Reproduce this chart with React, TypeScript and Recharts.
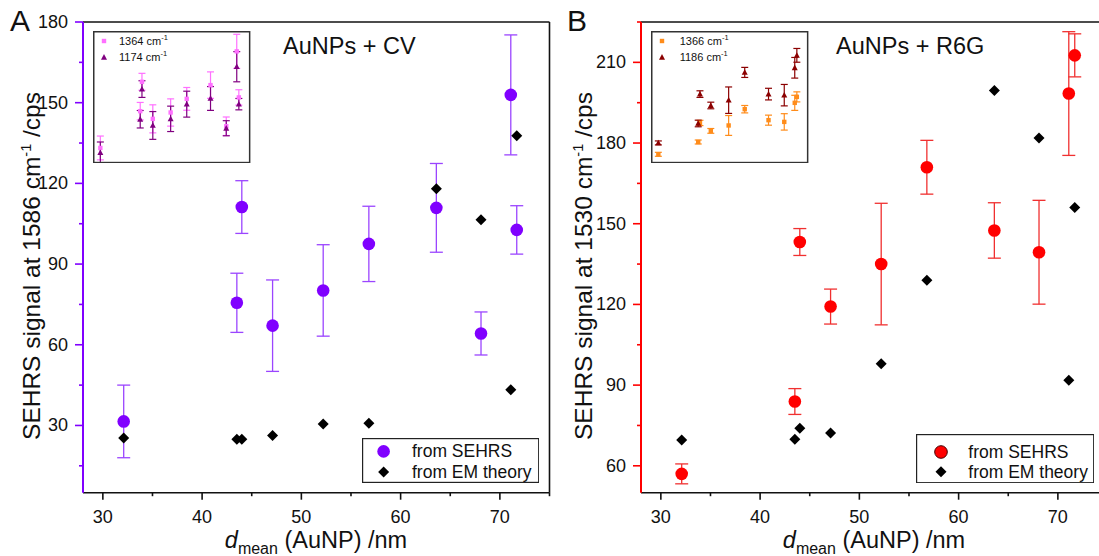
import React from 'react';
import { ScatterChart, Scatter, XAxis, YAxis, ErrorBar, ReferenceLine } from 'recharts';

const FONT = '"Liberation Sans", Arial, Helvetica, sans-serif';

// mean AuNP diameter (nm), same particles in both panels
const dMean = [32.1, 43.5, 44.0, 47.1, 52.2, 56.8, 63.6, 68.1, 71.1, 71.7];

// panel A: AuNPs + CV, SEHRS at 1586 cm-1
const cvSehrs = [31.5, 75.6, 111.2, 67.1, 80.2, 97.5, 110.9, 64.2, 152.9, 102.7];
const cvSehrsErr = [13.5, 11, 9.8, 17, 17, 14, 16.5, 8, 22.3, 9];
const cvEm = [25.3, 24.9, 24.9, 26.3, 30.5, 30.8, 118, 106.5, 43.3, 137.7];

// panel B: AuNPs + R6G, SEHRS at 1530 cm-1
const r6gSehrs = [57.0, 83.9, 143.2, 119.2, 135.0, 171.0, 147.5, 139.4, 198.4, 212.6];
const r6gSehrsErr = [3.7, 4.8, 5, 6.5, 22.6, 10, 10.3, 19.3, 23, 8];
const r6gEm = [69.6, 69.9, 74, 72.2, 97.9, 129, 199.5, 181.9, 91.8, 156];

// insets (arbitrary units, no axis shown)
const cv1364 = [11.6, 39.4, 61.6, 33.6, 38.4, 48.7, 59.1, 28, 84.6, 49.8];
const cv1364Err = [9, 6.6, 6.4, 10.6, 10.3, 8.6, 10, 7, 12.9, 5.8];
const cv1174 = [8.1, 33.3, 56.1, 28.6, 33.6, 44.7, 49, 26.5, 73, 44.7];
const cv1174Err = [8, 6.6, 6.3, 10.5, 9.6, 9.8, 9, 5.7, 11.4, 4.3];
const r6g1366 = [6.8, 16.1, 30.5, 24.5, 28.6, 40.9, 32.6, 31.3, 45.7, 50.2];
const r6g1366Err = [1.5, 1.5, 2, 1.8, 7.5, 2.8, 3.8, 6.2, 5.7, 3.8];
const r6g1186 = [15.4, 30.1, 52.3, 43.7, 47.7, 68.7, 52.3, 51.5, 72.2, 81.6];
const r6g1186Err = [1.5, 2.5, 2.5, 2.5, 10, 3.8, 4.4, 8.1, 7.8, 5.2];

const xTicks = [30, 35, 40, 45, 50, 55, 60, 65, 70, 75];
const yTicksCv = [15, 30, 45, 60, 75, 90, 105, 120, 135, 150, 165, 180];
const yTicksR6g = [60, 75, 90, 105, 120, 135, 150, 165, 180, 195, 210, 225];

const rows = (v: number[], e?: number[]) =>
  dMean.map((d, i) => ({ d, v: v[i], err: e ? e[i] : 0 }));

const CH_W = 560;
const CH_H = 556;
const AX_W = 83;
const PLOT_W = 466.5;
const PLOT_H = 470.7;
const X_AX_H = 40;

const dot = (fill: string, r: number) => (p: any) =>
  <circle cx={p.cx} cy={p.cy} r={r} fill={fill} />;

const diamond = (p: any) => {
  const s = 5.5;
  return <polygon points={`${p.cx},${p.cy - s} ${p.cx + s},${p.cy} ${p.cx},${p.cy + s} ${p.cx - s},${p.cy}`} fill="#000" />;
};

const square = (fill: string) => (p: any) =>
  <rect x={p.cx - 2.2} y={p.cy - 2.2} width={4.4} height={4.4} fill={fill} />;

const triangle = (fill: string) => (p: any) =>
  <polygon points={`${p.cx},${p.cy - 3.2} ${p.cx + 3},${p.cy + 2.4} ${p.cx - 3},${p.cy + 2.4}`} fill={fill} />;

const yTick = (color: string) => (p: any) => {
  const v = p.payload.value;
  const major = v % 30 === 0;
  return (
    <g>
      <line x1={p.x - (major ? 8 : 4)} x2={p.x} y1={p.y} y2={p.y} stroke={color} strokeWidth={1.6} />
      {major && (
        <text x={p.x - 15} y={p.y} textAnchor="end" dominantBaseline="central" fontSize={18} fill="#111" fontFamily={FONT}>
          {v}
        </text>
      )}
    </g>
  );
};

const xTick = (p: any) => {
  const v = p.payload.value;
  const major = v % 10 === 0;
  return (
    <g>
      <line x1={p.x} x2={p.x} y1={p.y} y2={p.y + (major ? 7 : 3.5)} stroke="#111" strokeWidth={1.6} />
      {major && (
        <text x={p.x} y={p.y + 24} textAnchor="middle" dominantBaseline="central" fontSize={18} fill="#111" fontFamily={FONT}>
          {v}
        </text>
      )}
    </g>
  );
};

function MainPanel(props: any) {
  const { left, axisColor, dotColor, errColor, sehrs, em, yDomain, yTicks } = props;
  return (
    <div style={{ position: 'absolute', left, top: 0 }}>
      <ScatterChart
        width={CH_W}
        height={CH_H}
        margin={{ top: 22, right: CH_W - AX_W - PLOT_W, bottom: CH_H - 22 - PLOT_H - X_AX_H, left: 0 }}
      >
        <XAxis type="number" dataKey="d" domain={[28, 75]} ticks={xTicks} interval={0} height={X_AX_H}
          tickSize={0} tickMargin={0} tickLine={false} axisLine={{ stroke: '#111', strokeWidth: 1.6 }} tick={xTick} />
        <YAxis type="number" dataKey="v" domain={yDomain} ticks={yTicks} interval={0} width={AX_W}
          tickSize={0} tickMargin={0} tickLine={false} axisLine={{ stroke: axisColor, strokeWidth: 2 }} tick={yTick(axisColor)} />
        <ReferenceLine y={yDomain[1]} stroke="#111" strokeWidth={1.6} ifOverflow="visible" />
        <ReferenceLine x={75} stroke="#111" strokeWidth={1.6} ifOverflow="visible" />
        <Scatter data={sehrs} isAnimationActive={false} shape={dot(dotColor, 6.3)}>
          <ErrorBar dataKey="err" direction="y" width={6.5} stroke={errColor} strokeWidth={1.3} isAnimationActive={false} />
        </Scatter>
        <Scatter data={em} isAnimationActive={false} shape={diamond} />
      </ScatterChart>
    </div>
  );
}

function Inset(props: any) {
  const { left, top, s1, s2, c1, c2, label1, label2, textX } = props;
  const w = 157.4;
  const h = 132.3;
  return (
    <div style={{ position: 'absolute', left, top, width: w, height: h, background: '#fff' }}>
      <ScatterChart width={w} height={h} margin={{ top: 0, right: 0, bottom: 0, left: 0 }}>
        <XAxis type="number" dataKey="d" domain={[30, 75]} hide />
        <YAxis type="number" dataKey="v" domain={[0, 100]} hide />
        <Scatter data={s1} isAnimationActive={false} shape={square(c1)}>
          <ErrorBar dataKey="err" direction="y" width={3.5} stroke={c1} strokeWidth={1.2} isAnimationActive={false} />
        </Scatter>
        <Scatter data={s2} isAnimationActive={false} shape={triangle(c2)}>
          <ErrorBar dataKey="err" direction="y" width={3.5} stroke={c2} strokeWidth={1.2} isAnimationActive={false} />
        </Scatter>
      </ScatterChart>
      <svg width={w} height={h} style={{ position: 'absolute', left: 0, top: 0, pointerEvents: 'none' }}>
        <rect x={0.75} y={0.75} width={w - 1.5} height={h - 1.5} fill="none" stroke="#333" strokeWidth={1.5} />
        {square(c1)({ cx: 11, cy: 10 })}
        {triangle(c2)({ cx: 11, cy: 26.3 })}
        <text x={textX} y={10} dominantBaseline="central" fontSize={11} fontFamily={FONT} fill="#111">
          {label1} cm<tspan dy={-4} fontSize={7.5}>-1</tspan>
        </text>
        <text x={textX} y={26.3} dominantBaseline="central" fontSize={11} fontFamily={FONT} fill="#111">
          {label2} cm<tspan dy={-4} fontSize={7.5}>-1</tspan>
        </text>
      </svg>
    </div>
  );
}

function LegendBox(props: any) {
  const { left, top, width, height, dotColor, outline, mx, tx, y1, y2 } = props;
  return (
    <svg width={width} height={height} style={{ position: 'absolute', left, top, background: '#fff' }}>
      <rect x={0.6} y={0.6} width={width - 1.2} height={height - 1.2} fill="#fff" stroke="#222" strokeWidth={1.2} />
      <circle cx={mx} cy={y1} r={6.3} fill={dotColor} stroke={outline} strokeWidth={outline ? 1 : 0} />
      {diamond({ cx: mx, cy: y2 })}
      <text x={tx} y={y1} dominantBaseline="central" fontSize={17.5} fontFamily={FONT} fill="#111">from SEHRS</text>
      <text x={tx} y={y2} dominantBaseline="central" fontSize={17.5} fontFamily={FONT} fill="#111">from EM theory</text>
    </svg>
  );
}

function yTitle(x: number, y: number, wn: string) {
  return (
    <text transform={`rotate(-90, ${x}, ${y})`} x={x} y={y} textAnchor="middle" fontSize={24.5} fontFamily={FONT} fill="#111">
      SEHRS signal at {wn} cm<tspan dy={-9} fontSize={14.5}>-1</tspan><tspan dy={9}> /cps</tspan>
    </text>
  );
}

function xTitle(x: number, y: number) {
  return (
    <text x={x} y={y} textAnchor="middle" fontSize={23.5} fontFamily={FONT} fill="#111">
      <tspan fontStyle="italic">d</tspan>
      <tspan dy={6} fontSize={16}>mean</tspan>
      <tspan dy={-6}> (AuNP) /nm</tspan>
    </text>
  );
}

export default function App() {
  return (
    <div style={{ position: 'absolute', left: 0, top: 0, width: 1099, height: 556, overflow: 'hidden', background: '#fff' }}>
      <MainPanel left={0} axisColor="#8000ff" dotColor="#8000ff" errColor="#9b45ff"
        sehrs={rows(cvSehrs, cvSehrsErr)} em={rows(cvEm)} yDomain={[5, 180]} yTicks={yTicksCv} />
      <MainPanel left={558} axisColor="#ff0000" dotColor="#ff0000" errColor="#f03030"
        sehrs={rows(r6gSehrs, r6gSehrsErr)} em={rows(r6gEm)} yDomain={[50, 225]} yTicks={yTicksR6g} />

      <Inset left={93.3} top={31} s1={rows(cv1364, cv1364Err)} s2={rows(cv1174, cv1174Err)}
        c1="#ff70ff" c2="#800080" label1="1364" label2="1174" textX={26} />
      <Inset left={651.3} top={31} s1={rows(r6g1366, r6g1366Err)} s2={rows(r6g1186, r6g1186Err)}
        c1="#ff8c1a" c2="#8b0000" label1="1366" label2="1186" textX={28.7} />

      <LegendBox left={361.7} top={438.3} width={177.3} height={45} dotColor="#8000ff" mx={21.6} tx={50} y1={13.4} y2={34} />
      <LegendBox left={916} top={434} width={178.3} height={49.3} dotColor="#ff0000" outline="#400" mx={25} tx={52.3} y1={18} y2={37.7} />

      <svg width={1099} height={556} style={{ position: 'absolute', left: 0, top: 0, pointerEvents: 'none' }}>
        <text x={10} y={31} fontSize={30} fontFamily={FONT} fill="#111">A</text>
        <text x={567} y={31} fontSize={30} fontFamily={FONT} fill="#111">B</text>
        <text x={283} y={54} fontSize={23.5} fontFamily={FONT} fill="#111">AuNPs + CV</text>
        <text x={836} y={54} fontSize={23.5} fontFamily={FONT} fill="#111">AuNPs + R6G</text>
        {yTitle(40, 266, '1586')}
        {yTitle(592, 266, '1530')}
        {xTitle(316, 548)}
        {xTitle(874, 548)}
      </svg>
    </div>
  );
}
